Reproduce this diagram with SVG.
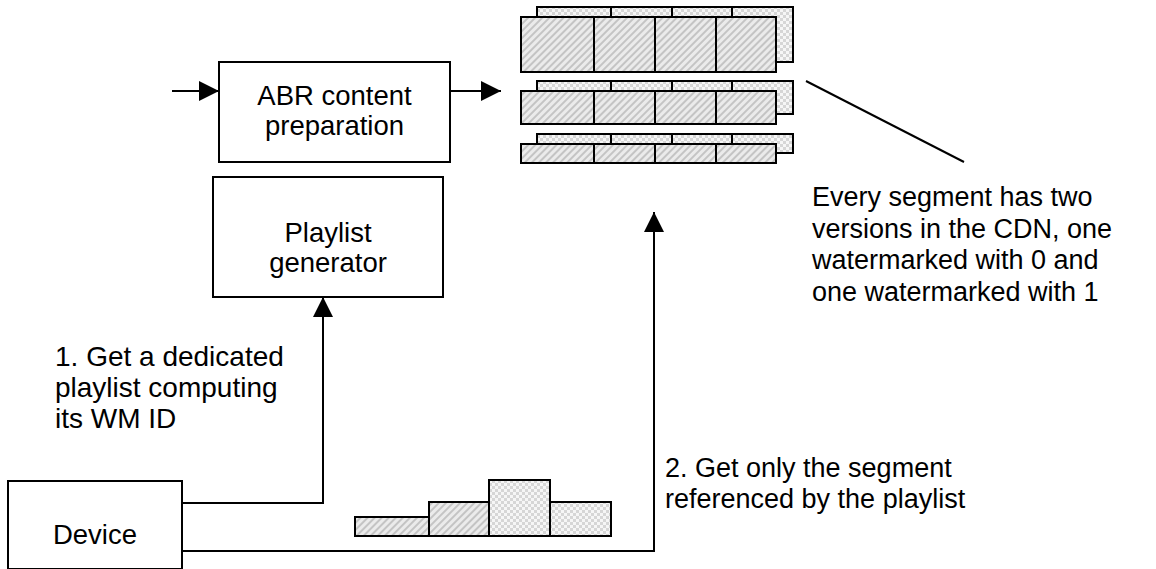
<svg xmlns="http://www.w3.org/2000/svg" width="1156" height="569" viewBox="0 0 1156 569">
<style>
.box{fill:#fff;stroke:#000;stroke-width:2}
.t{font-family:"Liberation Sans",Arial,sans-serif;font-size:27.5px;fill:#000}
.l{font-size:28px}
.r{font-size:27px}
.c{text-anchor:middle}
.ln{fill:none;stroke:#000;stroke-width:2}
.h{fill:url(#hatch);stroke:#000;stroke-width:2}
.k{fill:url(#check);stroke:#000;stroke-width:2}
</style>
<defs>
<pattern id="hatch" patternUnits="userSpaceOnUse" width="5" height="5" patternTransform="rotate(45)">
<rect width="5" height="5" fill="#ebebeb"/>
<rect width="2" height="5" fill="#c4c4c4"/>
</pattern>
<pattern id="check" patternUnits="userSpaceOnUse" width="6" height="6">
<rect width="6" height="6" fill="#f6f6f6"/>
<rect width="3" height="3" fill="#d6d6d6"/>
<rect x="3" y="3" width="3" height="3" fill="#d6d6d6"/>
</pattern>
<marker id="arr" viewBox="0 0 20 20" refX="20" refY="10" markerWidth="20" markerHeight="20" markerUnits="userSpaceOnUse" orient="auto">
<path d="M0,0 L20,10 L0,20 Z" fill="#000"/>
</marker>
</defs>

<g id="abr">
<rect class="box" x="219" y="62" width="231" height="100"/>
<text class="t c" x="334.5" y="105">ABR content</text>
<text class="t c" x="334.5" y="135">preparation</text>
</g>

<g id="playlist">
<rect class="box" x="213" y="177" width="230" height="120"/>
<text class="t c" x="328" y="242">Playlist</text>
<text class="t c" x="328" y="272">generator</text>
</g>

<g id="device">
<rect class="box" x="8" y="481" width="174" height="88"/>
<text class="t c" x="95" y="544">Device</text>
</g>

<g id="segments">
<rect class="k" x="537" y="7" width="256" height="55"/>
<line class="ln" x1="611" y1="7" x2="611" y2="17"/>
<line class="ln" x1="672" y1="7" x2="672" y2="17"/>
<line class="ln" x1="732" y1="7" x2="732" y2="17"/>
<rect class="h" x="521" y="17" width="73" height="55"/>
<rect class="h" x="594" y="17" width="61" height="55"/>
<rect class="h" x="655" y="17" width="61" height="55"/>
<rect class="h" x="716" y="17" width="60" height="55"/>

<rect class="k" x="537" y="81" width="256" height="33"/>
<line class="ln" x1="611" y1="81" x2="611" y2="91"/>
<line class="ln" x1="672" y1="81" x2="672" y2="91"/>
<line class="ln" x1="732" y1="81" x2="732" y2="91"/>
<rect class="h" x="521" y="91" width="73" height="33"/>
<rect class="h" x="594" y="91" width="61" height="33"/>
<rect class="h" x="655" y="91" width="61" height="33"/>
<rect class="h" x="716" y="91" width="60" height="33"/>

<rect class="k" x="537" y="134" width="256" height="19"/>
<line class="ln" x1="611" y1="134" x2="611" y2="144"/>
<line class="ln" x1="672" y1="134" x2="672" y2="144"/>
<line class="ln" x1="732" y1="134" x2="732" y2="144"/>
<rect class="h" x="521" y="144" width="73" height="19"/>
<rect class="h" x="594" y="144" width="61" height="19"/>
<rect class="h" x="655" y="144" width="61" height="19"/>
<rect class="h" x="716" y="144" width="60" height="19"/>
</g>

<g id="received">
<rect class="h" x="355" y="517" width="74" height="19"/>
<rect class="h" x="429" y="502" width="60" height="34"/>
<rect class="k" x="489" y="480" width="61" height="56"/>
<rect class="k" x="550" y="502" width="61" height="34"/>
</g>

<g id="connectors">
<line class="ln" x1="172" y1="91" x2="219" y2="91" marker-end="url(#arr)"/>
<line class="ln" x1="450" y1="91" x2="501" y2="91" marker-end="url(#arr)"/>
<polyline class="ln" points="182,503 323,503 323,297" marker-end="url(#arr)"/>
<polyline class="ln" points="182,551 654,551 654,212" marker-end="url(#arr)"/>
<line class="ln" x1="806" y1="81" x2="964" y2="162"/>
</g>

<g id="labels">
<text class="t l" x="55" y="366">1. Get a dedicated</text>
<text class="t l" x="55" y="397">playlist computing</text>
<text class="t l" x="55" y="428">its WM ID</text>
<text class="t r" x="665" y="477">2. Get only the segment</text>
<text class="t r" x="665" y="508">referenced by the playlist</text>
<text class="t r" x="812" y="206">Every segment has two</text>
<text class="t r" x="812" y="237.5">versions in the CDN, one</text>
<text class="t r" x="812" y="269">watermarked with 0 and</text>
<text class="t r" x="812" y="300.5">one watermarked with 1</text>
</g>
</svg>
